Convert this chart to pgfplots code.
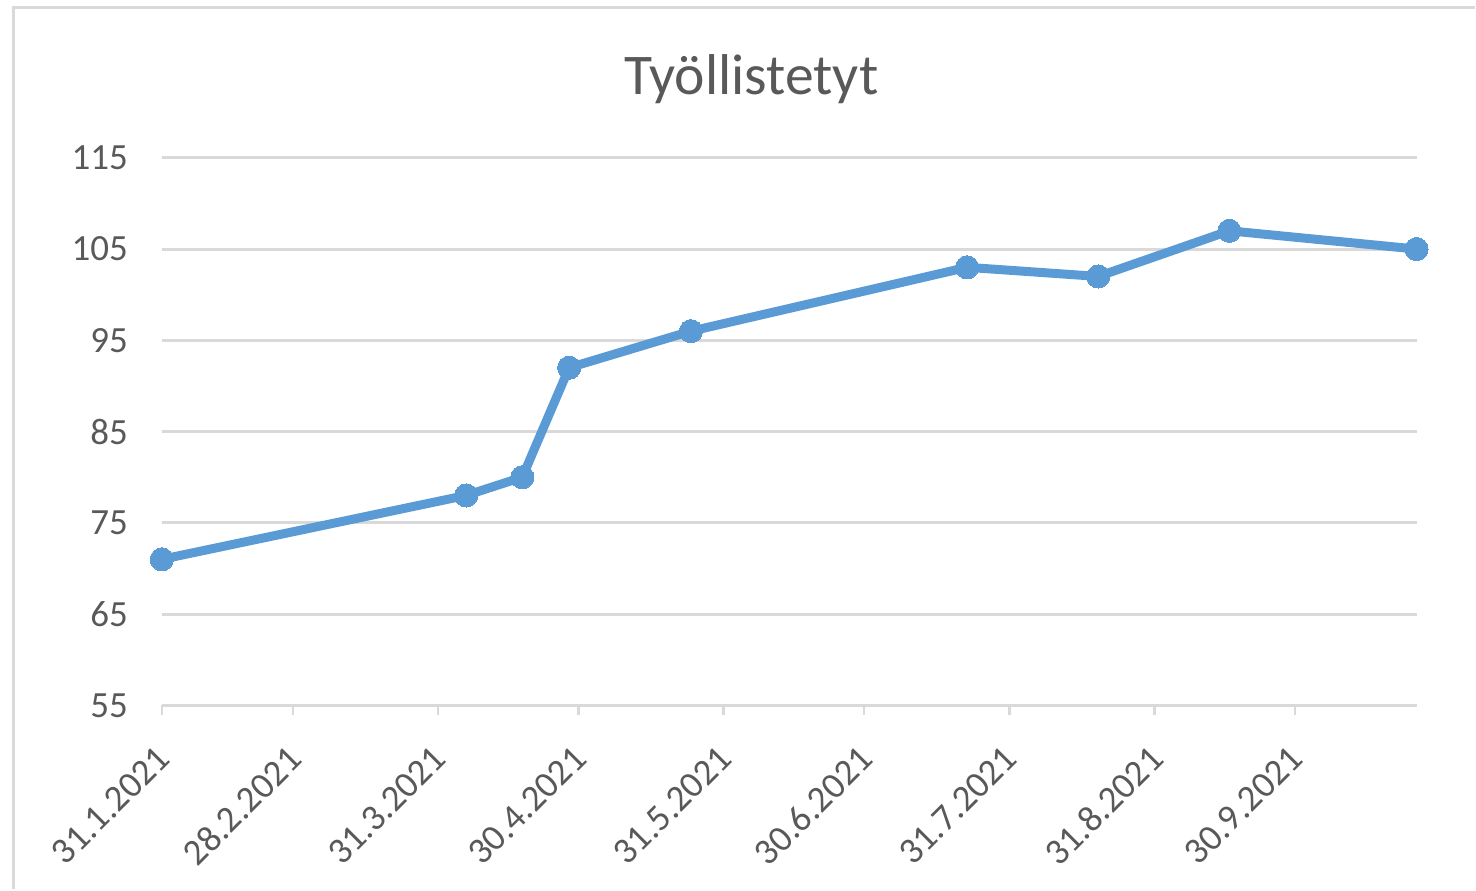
\documentclass[border=0pt]{standalone}
\usepackage{fontspec}
\setmainfont{Carlito}
\usepackage{pgfplots}
\pgfplotsset{compat=1.18}
\definecolor{lineblue}{HTML}{5B9BD5}
\definecolor{gridgray}{HTML}{D9D9D9}
\definecolor{textgray}{HTML}{595959}
\begin{document}
\begin{tikzpicture}
\begin{axis}[
  name=main,
  scale only axis,
  width=628pt, height=274pt,
  xmin=0, xmax=268,
  ymin=55, ymax=115,
  ytick={55,65,75,85,95,105,115},
  xtick={0,28,59,89,120,150,181,212,242},
  xticklabels={31.1.2021,28.2.2021,31.3.2021,30.4.2021,31.5.2021,30.6.2021,31.7.2021,31.8.2021,30.9.2021},
  axis x line*=bottom, axis y line*=left,
  x axis line style={draw=gridgray, line width=1.5pt, -},
  y axis line style={draw=none},
  ymajorgrids, grid style={draw=gridgray, line width=1.5pt},
  xtick style={draw=gridgray, line width=1.3pt},
  ytick style={draw=none},
  tick align=outside, major tick length=5pt,
  /pgf/number format/assume math mode=true,
  tick label style={font=\fontsize{18.5}{20}\selectfont, text=textgray},
  yticklabel style={anchor=east, xshift=-8.5pt},
  xticklabel style={inner sep=0pt, xshift=-3.5pt, yshift=-14pt, rotate=45, anchor=north east},
  clip=false,
]
\addplot[color=lineblue, line width=4.5pt, mark=*, mark size=5.8pt, mark options={solid, fill=lineblue, draw=lineblue, line width=0pt}]
  coordinates {
  (0,71) (65,78) (77,80) (87,92) (113,96) (172,103) (200,102) (228,107) (268,105)
  };
\end{axis}
\node[anchor=base, font=\fontsize{28.8}{32}\selectfont, text=textgray] at ([shift={(295pt,31.5pt)}]main.south west |- main.north west) {Työllistetyt};
\pgfresetboundingbox
\path ([shift={(-81pt,-92pt)}]main.south west) rectangle ([shift={(657pt,353pt)}]main.south west);
\draw[gridgray, line width=1.5pt] ([shift={(-74pt,-92pt)}]main.south west) -- ([shift={(-74pt,349pt)}]main.south west) -- ([shift={(657pt,349pt)}]main.south west);
\end{tikzpicture}
\end{document}
